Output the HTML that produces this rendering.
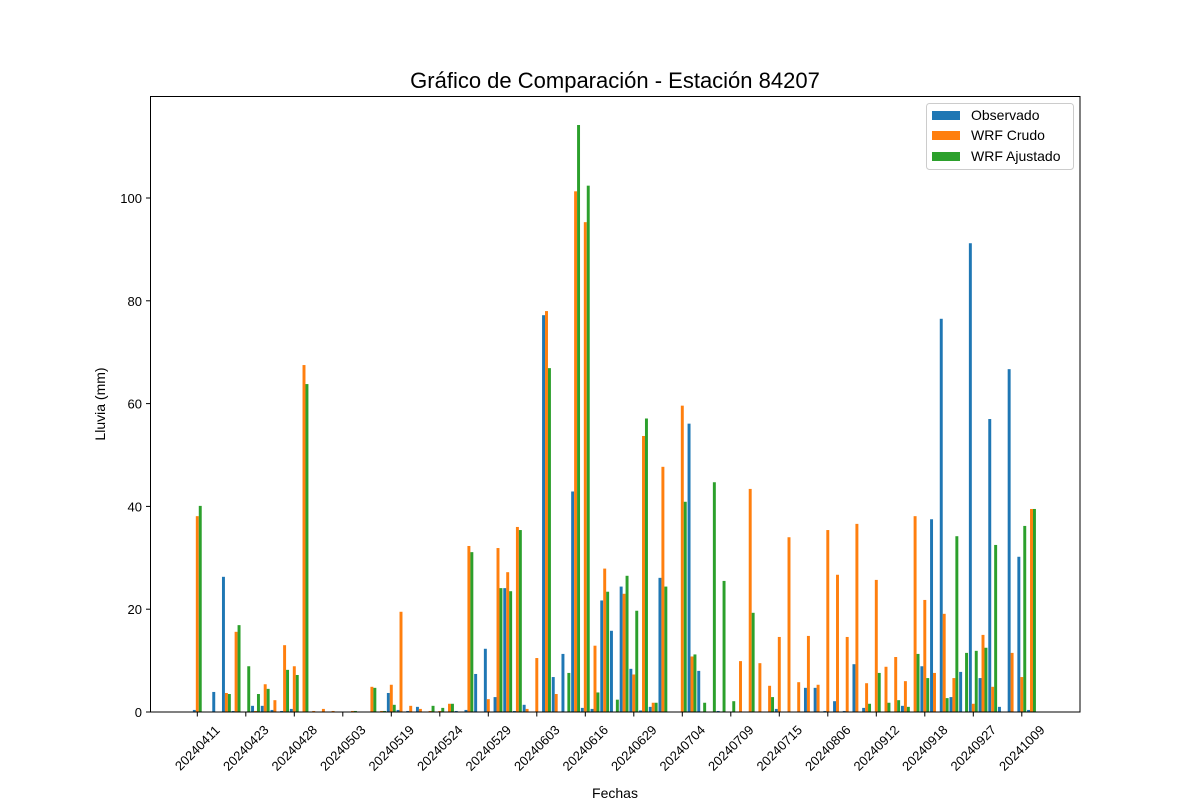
<!DOCTYPE html>
<html><head><meta charset="utf-8"><style>
html,body{margin:0;padding:0;background:#fff;}
svg{display:block;font-family:"Liberation Sans","DejaVu Sans",sans-serif;}
</style></head><body>
<svg id="chart" width="1200" height="800" viewBox="0 0 1200 800">
<rect width="1200" height="800" fill="#fff"/>
<text x="615" y="88" font-size="22" text-anchor="middle" fill="#000">Gráfico de Comparación - Estación 84207</text>
<g id="bars"></g>
<g id="axes"></g>
<text x="615" y="798" font-size="14" text-anchor="middle">Fechas</text>
<text transform="translate(105,404) rotate(-90)" font-size="14" text-anchor="middle">Lluvia (mm)</text>
<g>
<rect x="926.5" y="103.5" width="147" height="66" rx="3" fill="#fff" stroke="#ccc"/>
<g><rect x="932" y="111" width="28" height="9" fill="#1f77b4"/><text x="971" y="120" font-size="14">Observado</text></g>
<g><rect x="932" y="131" width="28" height="9" fill="#ff7f0e"/><text x="971" y="140" font-size="14">WRF Crudo</text></g>
<g><rect x="932" y="152" width="28" height="9" fill="#2ca02c"/><text x="971" y="161" font-size="14">WRF Ajustado</text></g>
</g>
</svg>
<script>
const tickLabels = ["20240411","20240423","20240428","20240503","20240519","20240524","20240529","20240603","20240616","20240629","20240704","20240709","20240715","20240806","20240912","20240918","20240927","20241009"];
const categories = [];
for (let i = 0; i < 87; i++) categories.push(i % 5 === 0 ? tickLabels[i / 5] : "");
const observado = [0.4,0,3.9,26.3,0.2,0,1.2,1.2,0.4,0.2,0.6,0,0,0,0,0,0,0,0,0,3.7,0.4,0.2,1.0,0,0,0,0.2,0.4,7.4,12.3,2.9,24.1,0.2,1.4,0,77.2,6.8,11.3,42.9,0.8,0.6,21.7,15.8,24.4,8.4,0.3,1.0,26.1,0,0,56.1,8.0,0,0.2,0,0,0,0,0,0.6,0,0,4.7,4.7,0.2,2.1,0.2,9.3,0.8,0,0,0,1.2,0,8.9,37.5,76.5,2.9,7.8,91.2,6.6,57.0,1.0,66.7,30.2,0.4];
const wrfCrudo = [38.1,0,0,3.7,15.6,0,0.2,5.4,2.3,13.0,8.9,67.5,0.2,0.6,0.2,0,0.2,0,4.9,0.2,5.3,19.5,1.2,0.6,0.2,0.2,1.6,0,32.3,0,2.5,31.9,27.2,36.0,0.6,10.5,78.0,3.5,0,101.3,95.3,12.9,27.9,0,23.0,7.3,53.7,1.8,47.7,0,59.6,10.8,0,0,0,0,9.9,43.4,9.5,5.1,14.6,34.0,5.8,14.8,5.3,35.4,26.7,14.6,36.6,5.6,25.7,8.8,10.7,6.0,38.1,21.8,7.6,19.1,6.6,0,1.6,15.0,4.9,0,11.5,6.8,39.5];
const wrfAjustado = [40.1,0,0,3.5,16.9,8.9,3.5,4.5,0,8.2,7.2,63.8,0,0,0,0,0.2,0,4.7,0.2,1.4,0,0,0,1.2,0.8,1.6,0,31.1,0,0,24.1,23.5,35.4,0,0,66.9,0,7.6,114.2,102.4,3.8,23.4,2.4,26.5,19.7,57.1,1.8,24.4,0,40.9,11.2,1.8,44.7,25.5,2.1,0,19.3,0,2.9,0,0,0,0,0,0,0,0,0,1.6,7.6,1.8,2.3,1.0,11.3,6.6,0,2.7,34.2,11.5,11.9,12.5,32.5,0,0,36.2,39.5];
const yTicks = [0,20,40,60,80,100];

const NS = "http://www.w3.org/2000/svg";
const xPos = i => 197.3 + 9.7 * i;
const yPos = v => 712 - v * 5.14;
const bw = 2.95;
const bars = document.getElementById("bars");
const axes = document.getElementById("axes");
const series = [[observado, "#1f77b4", "observado", -1], [wrfCrudo, "#ff7f0e", "wrf-crudo", 0], [wrfAjustado, "#2ca02c", "wrf-ajustado", 1]];
series.forEach(([vals, col, nm, off]) => {
  vals.forEach((v, i) => {
    const r = document.createElementNS(NS, "rect");
    const cx = xPos(i) + off * bw;
    r.setAttribute("x", cx - bw / 2);
    r.setAttribute("width", bw);
    r.setAttribute("y", yPos(v));
    r.setAttribute("height", Math.max(0, 712 - yPos(v)));
    r.setAttribute("fill", col);
    
    
    bars.appendChild(r);
  });
});
// frame
const fr = document.createElementNS(NS, "rect");
fr.setAttribute("x", 150.5); fr.setAttribute("y", 96.5);
fr.setAttribute("width", 929.5); fr.setAttribute("height", 615.5);
fr.setAttribute("fill", "none"); fr.setAttribute("stroke", "#000"); fr.setAttribute("stroke-width", "1");


axes.appendChild(fr);
yTicks.forEach(t => {
  const y = yPos(t);
  const l = document.createElementNS(NS, "line");
  l.setAttribute("x1", 146); l.setAttribute("x2", 150.5); l.setAttribute("y1", y); l.setAttribute("y2", y);
  l.setAttribute("stroke", "#000");
  
  
  axes.appendChild(l);
  const tx = document.createElementNS(NS, "text");
  tx.setAttribute("x", 142); tx.setAttribute("y", y + 5);
  tx.setAttribute("font-size", "13"); tx.setAttribute("text-anchor", "end");
  tx.textContent = t;
  
  
  axes.appendChild(tx);
});
categories.forEach((c, i) => {
  if (!c) return;
  const x = xPos(i);
  const l = document.createElementNS(NS, "line");
  l.setAttribute("x1", x); l.setAttribute("x2", x); l.setAttribute("y1", 712); l.setAttribute("y2", 716.5);
  l.setAttribute("stroke", "#000");
  
  
  axes.appendChild(l);
  const tx = document.createElementNS(NS, "text");
  tx.setAttribute("transform", "translate(" + x + ",748) rotate(-45)");
  tx.setAttribute("font-size", "13"); tx.setAttribute("text-anchor", "middle");
  tx.setAttribute("dominant-baseline", "central");
  tx.textContent = c;
  
  
  axes.appendChild(tx);
});
</script>
</body></html>
